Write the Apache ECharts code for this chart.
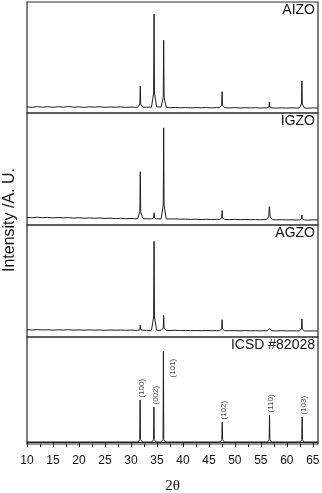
<!DOCTYPE html>
<html>
<head>
<meta charset="utf-8">
<script src="https://cdn.jsdelivr.net/npm/echarts@6/dist/echarts.min.js"></script>
<style>
html,body{margin:0;padding:0;background:#fff;}
#chart{width:322px;height:493px;}
</style>
</head>
<body>
<div id="chart"></div>
<script>
// ---- DATA ----
var panelNames = ['AIZO', 'IGZO', 'AGZO', 'ICSD #82028'];
var xTicks = [10, 15, 20, 25, 30, 35, 40, 45, 50, 55, 60, 65];
var xMinorTicks = [12.5, 17.5, 22.5, 27.5, 32.5, 37.5, 42.5, 47.5, 52.5, 57.5, 62.5];

var aizo = [[10,1.2],[11,0.6],[12,1.4],[13,0.8],[14,1.3],[15,0.7],[16,1.2],[17,0.9],[18,1.5],[19,0.8],[20,1.1],[21,0.6],[22,1.2],[23,0.9],[24,1.3],[25,0.7],[26,1.0],[27,0.8],[28,1.1],[29,0.6],[30,0.9],[30.7,0.7],
[31.3,0.8],[31.72,4.0],[31.8,21.8],[31.88,4.0],[32.3,0.8],[33,0.7],[33.5,0.9],
[33.95,0.8],[34.37,14.8],[34.45,93.8],[34.53,14.8],[34.95,1.1],
[35.8,1.0],[36.22,10.8],[36.3,67.8],[36.38,10.8],[36.8,0.6],
[37.5,0.3],[38.5,0.6],[39.5,0.2],[40.5,0.5],[41.5,0.1],[42.5,0.4],[43.5,0.2],[44.5,0.5],[45.5,0.1],[46.5,0.4],
[47.05,0.3],[47.47,2.7],[47.55,16.3],[47.63,2.7],[48.05,0.3],
[49,0.1],[50,0.4],[51,0],[52,0.3],[53,0.1],[54,0.3],[55,-0.1],[55.6,0.2],
[56.15,0.1],[56.57,1.0],[56.65,6.1],[56.73,1.0],[57.15,0.1],
[58,-0.1],[59,0.2],[60,-0.1],[61,0.2],[61.8,0],
[62.4,0],[62.82,4.0],[62.9,27],[62.98,4.0],[63.4,0],
[64,-0.2],[65,0.1],[66,-0.1]];

var igzo = [[10,2.6],[11,2.2],[12,2.8],[13,2.3],[14,2.6],[15,2.1],[16,2.5],[17,2.2],[18,2.4],[19,1.9],[20,2.3],[21,1.8],[22,2.1],[23,1.7],[24,2.0],[25,1.6],[26,1.8],[27,1.4],[28,1.7],[29,1.3],[30,1.5],[30.7,1.3],
[31.3,1.3],[31.72,8.3],[31.8,48.3],[31.88,8.3],[32.3,1.3],[33,1.2],
[33.95,1.2],[34.37,2.1],[34.45,7.2],[34.53,2.1],[34.95,1.2],
[35.8,1.1],[36.22,15.0],[36.3,92.1],[36.38,15.0],[36.8,1.1],
[37.5,1.0],[38.5,1.1],[39.5,0.8],[40.5,0.9],[41.5,0.6],[42.5,0.8],[43.5,0.5],[44.5,0.7],[45.5,0.5],[46.5,0.6],
[47.05,0.5],[47.47,1.9],[47.55,9.5],[47.63,1.9],[48.05,0.5],
[49,0.4],[50,0.6],[51,0.3],[52,0.5],[53,0.3],[54,0.4],[55,0.2],[55.5,0.4],
[56.0,0.3],[56.5,3.0],[56.65,13.3],[56.8,3.0],[57.3,0.3],
[58,0.2],[59,0.3],[60,0.1],[61,0.2],[61.8,0],
[62.4,0],[62.83,1.2],[62.9,5],[62.97,1.2],[63.4,0],
[64,-0.1],[65,0.1],[66,0]];

var agzo = [[10,1.3],[11,1.0],[12,1.4],[13,1.1],[14,1.2],[15,0.9],[16,1.2],[17,1.0],[18,1.3],[19,0.9],[20,1.1],[21,0.8],[22,1.1],[23,0.9],[24,1.0],[25,0.7],[26,1.0],[27,0.8],[28,0.9],[29,0.7],[30,0.9],[30.7,0.7],
[31.3,0.7],[31.72,1.4],[31.8,5.7],[31.88,1.4],[32.3,0.7],[33,0.6],
[33.95,0.6],[34.37,14.0],[34.45,89.6],[34.53,14.0],[34.95,0.6],
[35.8,0.6],[36.22,2.8],[36.3,15.6],[36.38,2.8],[36.8,0.6],
[37.5,0.5],[38.5,0.7],[39.5,0.4],[40.5,0.6],[41.5,0.4],[42.5,0.5],[43.5,0.3],[44.5,0.5],[45.5,0.3],[46.5,0.4],
[47.05,0.3],[47.47,2.0],[47.55,11.3],[47.63,2.0],[48.05,0.3],
[49,0.3],[50,0.4],[51,0.2],[52,0.4],[53,0.2],[54,0.3],[55,0.1],[55.6,0.3],
[56.2,0.2],[56.65,2.4],[57.1,0.2],
[58,0.1],[59,0.3],[60,0.1],[61,0.2],[61.8,0.1],
[62.4,0.1],[62.82,1.9],[62.9,12.1],[62.98,1.9],[63.4,0.1],
[64,0],[65,0.1],[66,0]];

var icsd = [[10,0],[31.37,0],[31.7,2.5],[31.77,42],[31.84,2.5],[32.17,0],
[34.02,0],[34.35,2.5],[34.42,35],[34.49,2.5],[34.82,0],
[35.85,0],[36.18,2.5],[36.25,91],[36.32,2.5],[36.65,0],
[47.17,0],[47.5,2.5],[47.57,20],[47.64,2.5],[47.97,0],
[56.34,0],[56.6,2.5],[56.67,27],[56.74,2.5],[57.0,0],
[62.62,0],[62.88,2.5],[62.95,25],[63.02,2.5],[63.28,0],[66,0]];

var hklLabels = ['(100)', '(002)', '(101)', '(102)', '(110)', '(103)'];
var hklPos = [31.77, 34.42, 36.25, 47.57, 56.67, 62.95];
var hklHeight = [42, 35, 91, 20, 27, 25];

// ---- CHART ----
var chart = echarts.init(document.getElementById('chart'), null, {renderer: 'canvas'});
var tops = [2, 113, 225, 337];
var heights = [111, 112, 112, 107];
var yMins = [-5, -5, -6, -2];
var spectra = [aizo, igzo, agzo, icsd];
var FONT = 'Liberation Sans, Arial, sans-serif';

var grids = [], xAxes = [], yAxes = [], series = [], titles = [];
for (var i = 0; i < 4; i++) {
  grids.push({left: 27, right: 4, top: tops[i], height: heights[i], show: true,
    containLabel: false, outerBoundsMode: 'none',
    borderColor: '#2a2a2a', borderWidth: 1.2, backgroundColor: 'transparent'});
  var last = (i === 3);
  xAxes.push({
    type: 'value', gridIndex: i, min: 10, max: 66,
    show: last,
    axisLine: {show: last, lineStyle: {color: '#222', width: 1}},
    axisTick: {show: last, inside: false, length: 5, customValues: xTicks, lineStyle: {color: '#222'}},
    axisLabel: {show: last, customValues: xTicks, margin: 11, fontSize: 12, color: '#111', fontFamily: FONT},
    splitLine: {show: false},
    name: last ? '2θ' : '', nameLocation: 'middle', nameGap: 35,
    nameTextStyle: {fontFamily: 'Liberation Serif, Times New Roman, serif', fontSize: 15, color: '#111'}
  });
  yAxes.push({type: 'value', gridIndex: i, min: yMins[i], max: yMins[i] + heights[i],
    show: false, splitLine: {show: false}});
  series.push({type: 'line', xAxisIndex: i, yAxisIndex: i, data: spectra[i],
    showSymbol: false, symbol: 'none', smooth: false,
    lineStyle: {color: '#1e1e1e', width: 1}, animation: false, silent: true});
  titles.push({text: panelNames[i], right: 7, top: tops[i] + 1, padding: 0,
    textStyle: {fontSize: 14, fontWeight: 'normal', color: '#111', fontFamily: FONT}});
}
// minor ticks on bottom axis
xAxes.push({
  type: 'value', gridIndex: 3, min: 10, max: 66, position: 'bottom', offset: 0,
  axisLine: {show: false},
  axisTick: {show: true, inside: false, length: 3, customValues: xMinorTicks, lineStyle: {color: '#222'}},
  axisLabel: {show: false}, splitLine: {show: false}
});

// hkl labels
var labelData = [];
for (var k = 0; k < hklLabels.length; k++) {
  var isMain = hklLabels[k] === '(101)';
  labelData.push({
    value: [hklPos[k], hklHeight[k]],
    name: hklLabels[k],
    label: {position: isMain ? [10, 27] : [2, -2]}
  });
}
series.push({
  type: 'scatter', xAxisIndex: 3, yAxisIndex: 3, data: labelData,
  symbolSize: 1, itemStyle: {color: 'transparent'}, animation: false, silent: true,
  label: {show: true, formatter: '{b}', rotate: 90, align: 'left', verticalAlign: 'middle',
    fontSize: 8, color: '#111', fontFamily: FONT}
});

chart.setOption({
  animation: false,
  backgroundColor: '#fff',
  title: titles,
  grid: grids,
  xAxis: xAxes,
  yAxis: yAxes,
  series: series,
  graphic: [{
    type: 'text', left: 2, top: 168, rotation: Math.PI / 2,
    style: {text: 'Intensity /A. U.', fill: '#111', font: '16px Liberation Sans, Arial, sans-serif'}
  }]
});
</script>
</body>
</html>
